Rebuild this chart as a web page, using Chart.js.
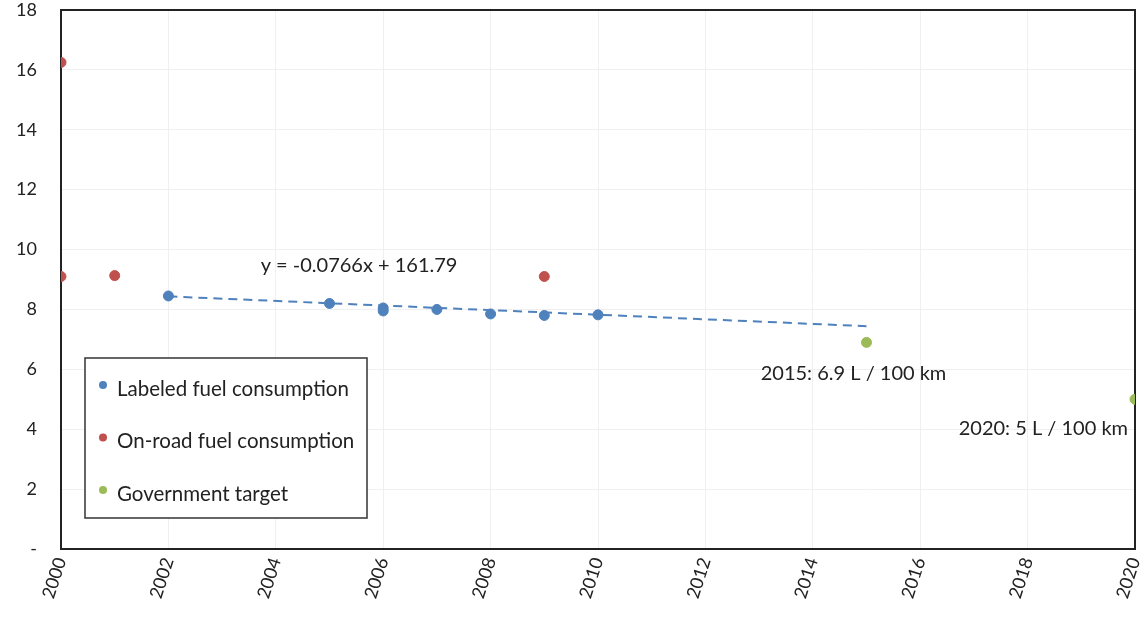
<!DOCTYPE html>
<html>
<head>
<meta charset="utf-8">
<script src="https://cdn.jsdelivr.net/npm/chart.js@4"></script>
<style>
  html, body { margin: 0; padding: 0; background: #fff; }
  #wrap { width: 1144px; height: 619px; }
</style>
</head>
<body>
<div id="wrap"><canvas id="myChart" width="1144" height="619"></canvas></div>
<script>
// data
var labeledYears = [2002, 2005, 2006, 2006, 2007, 2008, 2009, 2010];
var labeledValues = [8.45, 8.2, 8.05, 7.95, 8.0, 7.85, 7.8, 7.82];
var onRoadYears = [2000, 2000, 2001, 2009];
var onRoadValues = [16.25, 9.1, 9.13, 9.1];
var targetYears = [2015, 2020];
var targetValues = [6.9, 5];
var targetLabels = ['2015: 6.9 L / 100 km', '2020: 5 L / 100 km'];
var seriesNames = ['Labeled fuel consumption', 'On-road fuel consumption', 'Government target'];
// trendline shown on the chart
var trendSlope = -0.0766;
var trendIntercept = 161.79;
var trendYears = [2002, 2015];
var trendText = 'y = -0.0766x + 161.79';
var xTicks = [2000, 2002, 2004, 2006, 2008, 2010, 2012, 2014, 2016, 2018, 2020];
var yTicks = [0, 2, 4, 6, 8, 10, 12, 14, 16, 18];

var FONT = 'Lato, "Open Sans", sans-serif';
var BLUE = '#4F81BD', RED = '#C0504D', GREEN = '#9BBB59';

function pts(xs, ys) {
    return xs.map(function (x, i) { return { x: x, y: ys[i] }; });
}

var trendData = trendYears.map(function (x) { return { x: x, y: trendSlope * x + trendIntercept }; });

// frame around the plot area
var framePlugin = {
    id: 'frame',
    beforeDatasetsDraw: function (chart) {
        var a = chart.chartArea, c = chart.ctx;
        c.save();
        c.strokeStyle = '#222';
        c.lineWidth = 2;
        c.strokeRect(a.left, a.top, a.right - a.left, a.bottom - a.top);
        c.restore();
    }
};

// text labels + boxed legend inside the plot
var notesPlugin = {
    id: 'notes',
    afterDatasetsDraw: function (chart) {
        var c = chart.ctx, a = chart.chartArea;
        var xs = chart.scales.x, ys = chart.scales.y;
        c.save();
        c.fillStyle = '#222';
        c.font = '20px ' + FONT;
        c.textBaseline = 'middle';

        // equation
        c.textAlign = 'center';
        c.fillText(trendText, xs.getPixelForValue(2005.55), ys.getPixelForValue(9.45));

        // target labels
        var meta = chart.getDatasetMeta(2);
        var p0 = meta.data[0], p1 = meta.data[1];
        c.textAlign = 'center';
        c.fillText(targetLabels[0], p0.x - 13, p0.y + 31);
        c.textAlign = 'right';
        c.fillText(targetLabels[1], p1.x - 7, p1.y + 29);

        // legend box
        var bx = a.left + 24, by = a.bottom - 191, bw = 282, bh = 160;
        c.fillStyle = '#fff';
        c.fillRect(bx, by, bw, bh);
        c.strokeStyle = '#333';
        c.lineWidth = 1.5;
        c.strokeRect(bx, by, bw, bh);
        var cols = [BLUE, RED, GREEN];
        c.textAlign = 'left';
        c.font = '20.5px ' + FONT;
        for (var i = 0; i < 3; i++) {
            var cy = by + 31 + i * 52.5;
            c.fillStyle = cols[i];
            c.beginPath();
            c.arc(bx + 18, cy - 4, 4, 0, Math.PI * 2);
            c.fill();
            c.fillStyle = '#222';
            c.fillText(seriesNames[i], bx + 32, cy);
        }
        c.restore();
    }
};

var ctx = document.getElementById('myChart').getContext('2d');
var chart = new Chart(ctx, {
    type: 'scatter',
    data: {
        datasets: [
            {
                label: seriesNames[0],
                data: pts(labeledYears, labeledValues),
                backgroundColor: BLUE,
                borderColor: BLUE,
                pointRadius: 5,
                order: 1
            },
            {
                label: seriesNames[1],
                data: pts(onRoadYears, onRoadValues),
                backgroundColor: RED,
                borderColor: RED,
                pointRadius: 5,
                order: 1
            },
            {
                label: seriesNames[2],
                data: pts(targetYears, targetValues),
                backgroundColor: GREEN,
                borderColor: GREEN,
                pointRadius: 5,
                order: 1
            },
            {
                label: 'Trend',
                data: trendData,
                showLine: true,
                borderColor: BLUE,
                borderWidth: 2,
                borderDash: [9, 6],
                pointRadius: 0,
                order: 2
            }
        ]
    },
    options: {
        responsive: false,
        animation: false,
        layout: { padding: { top: 10, right: 9, left: 0, bottom: 0 } },
        plugins: {
            legend: { display: false },
            tooltip: { enabled: false }
        },
        scales: {
            x: {
                type: 'linear',
                min: 2000,
                max: 2020,
                afterBuildTicks: function (s) { s.ticks = xTicks.map(function (v) { return { value: v }; }); },
                afterFit: function (s) {
                    s.height = 70;
                    s.paddingLeft = 0;
                    s.paddingRight = 0;
                },
                ticks: {
                    minRotation: 72,
                    maxRotation: 72,
                    padding: 6,
                    color: '#222',
                    font: { family: FONT, size: 18 },
                    callback: function (v) { return String(v); }
                },
                grid: { color: '#f0f0f0', drawTicks: false },
                border: { display: false }
            },
            y: {
                min: 0,
                max: 18,
                afterBuildTicks: function (s) { s.ticks = yTicks.map(function (v) { return { value: v }; }); },
                afterFit: function (s) {
                    s.width = 61;
                    s.paddingTop = 0;
                    s.paddingBottom = 0;
                },
                ticks: {
                    padding: 24,
                    color: '#222',
                    font: { family: FONT, size: 18 },
                    callback: function (v) { return v === 0 ? '-' : String(v); }
                },
                grid: { color: '#f0f0f0', drawTicks: false },
                border: { display: false }
            }
        }
    },
    plugins: [framePlugin, notesPlugin]
});
</script>
</body>
</html>
